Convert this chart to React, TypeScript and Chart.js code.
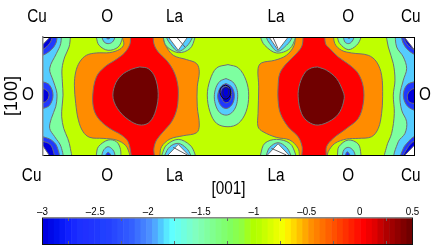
import React, { useEffect, useRef } from "react";
import { Chart, registerables } from "chart.js";

Chart.register(...registerables);

type P = number[];

// Contour field coordinates (axis units along [001] and [100]).
const XMIN = 130, XMAX = 1241, YMIN = 110, YMAX = 465;

const topLabels = ["Cu", "O", "La", "La", "O", "Cu"];
const topPositions = [112, 322, 524, 828, 1044, 1231];
const bottomLabels = ["Cu", "O", "La", "La", "O", "Cu"];
const bottomPositions = [96, 322, 524, 828, 1044, 1231];

const backdrop: P[] = [[100, 90], [1270, 90], [1270, 490], [100, 490], [100, 90]];

const orangeLeft: P[] = [[368, 95], [368, 112], [372, 132], [360, 147], [330, 157], [290, 158], [260, 165], [240, 185], [228, 215], [224, 255], [228, 310], [236, 360], [250, 395], [270, 412], [310, 415], [350, 420], [378, 437], [390, 465], [392, 480], [480, 480], [480, 465], [485, 440], [510, 417], [550, 407], [590, 398], [598, 375], [592, 320], [592, 260], [598, 215], [590, 190], [560, 178], [520, 165], [497, 135], [490, 110], [490, 95]];
const orangeRight: P[] = [[886, 95], [882, 135], [859, 165], [824, 180], [784, 188], [774, 205], [776, 260], [774, 340], [774, 380], [789, 395], [829, 412], [869, 420], [894, 445], [904, 480], [976, 480], [984, 455], [1004, 430], [1039, 417], [1074, 415], [1114, 410], [1134, 385], [1144, 340], [1147, 290], [1144, 225], [1129, 185], [1104, 165], [1054, 158], [1024, 150], [1004, 130], [999, 95]];
const redLeft: P[] = [[392, 95], [392, 112], [390, 132], [375, 157], [350, 177], [315, 200], [290, 230], [279, 285], [283, 330], [300, 360], [330, 385], [365, 405], [385, 425], [394, 465], [395, 480], [460, 480], [462, 445], [470, 420], [490, 395], [515, 365], [530, 330], [535, 290], [533, 250], [520, 210], [500, 180], [475, 155], [462, 130], [460, 95]];
const redRight: P[] = [[909, 95], [906, 135], [889, 160], [859, 190], [839, 220], [834, 260], [834, 300], [841, 340], [864, 380], [894, 410], [906, 440], [909, 480], [974, 480], [979, 440], [999, 415], [1039, 385], [1074, 355], [1089, 310], [1089, 260], [1074, 220], [1049, 195], [1014, 170], [989, 145], [976, 130], [974, 95]];
const darkRedLeft: P[] = [[420, 200], [445, 205], [465, 230], [475, 280], [468, 330], [450, 365], [425, 375], [395, 365], [360, 335], [340, 295], [345, 255], [365, 225], [395, 207], [420, 200]];
const darkRedRight: P[] = [[952, 200], [979, 210], [1009, 235], [1029, 275], [1032, 295], [1019, 335], [994, 360], [954, 375], [924, 365], [904, 340], [894, 290], [899, 250], [916, 215], [934, 203], [952, 200]];

const mintLeftEdge: P[] = [[212, 95], [212, 110], [208, 140], [195, 170], [187, 205], [188, 245], [190, 285], [187, 320], [186, 350], [192, 385], [204, 415], [212, 445], [212, 480], [100, 480], [100, 95]];
const mintRightEdge: P[] = [[1156, 95], [1164, 140], [1179, 190], [1184, 240], [1179, 285], [1182, 340], [1174, 400], [1159, 440], [1156, 480], [1270, 480], [1270, 95]];
const skyLeftEdge: P[] = [[185, 95], [183, 130], [170, 160], [150, 205], [160, 240], [170, 270], [172, 290], [168, 320], [155, 355], [150, 385], [165, 410], [184, 440], [186, 480], [100, 480], [100, 95]];
const skyRightEdge: P[] = [[1184, 95], [1189, 140], [1209, 170], [1219, 205], [1209, 240], [1199, 285], [1204, 330], [1219, 365], [1214, 400], [1194, 425], [1184, 480], [1270, 480], [1270, 95]];

const blueCornerTL: P[] = [[172, 95], [170, 125], [155, 148], [125, 167], [100, 170], [100, 95]];
const deepCornerTL: P[] = [[158, 95], [155, 120], [140, 140], [122, 152], [100, 155], [100, 95]];
const whiteCornerTL: P[] = [[166, 95], [130, 132], [100, 150], [100, 95]];
const blueCornerBL: P[] = [[100, 400], [130, 410], [155, 420], [172, 440], [176, 480], [100, 480]];
const deepCornerBL: P[] = [[100, 415], [130, 424], [150, 432], [160, 450], [162, 480], [100, 480]];
const whiteCornerBL: P[] = [[100, 425], [130, 438], [158, 480], [100, 480]];
const blueMidLeft: P[] = [[100, 240], [130, 245], [150, 255], [160, 285], [150, 315], [130, 325], [100, 330]];
const deepMidLeft: P[] = [[100, 262], [130, 265], [145, 275], [148, 287], [143, 300], [130, 308], [100, 310]];

const blueCornerTR: P[] = [[1202, 95], [1207, 125], [1224, 150], [1254, 168], [1270, 170], [1270, 95]];
const deepCornerTR: P[] = [[1206, 95], [1216, 125], [1236, 145], [1270, 160], [1270, 95]];
const whiteCornerTR: P[] = [[1200, 95], [1241, 147], [1270, 180], [1270, 95]];
const blueCornerBR: P[] = [[1270, 405], [1241, 410], [1224, 425], [1209, 445], [1202, 480], [1270, 480]];
const deepCornerBR: P[] = [[1270, 420], [1241, 424], [1224, 440], [1207, 480], [1270, 480]];
const whiteCornerBR: P[] = [[1270, 412], [1241, 437], [1200, 480], [1270, 480]];
const blueMidRight: P[] = [[1270, 240], [1241, 245], [1219, 255], [1209, 285], [1219, 315], [1241, 330], [1270, 335]];
const deepMidRight: P[] = [[1270, 262], [1241, 265], [1226, 275], [1221, 290], [1226, 305], [1241, 310], [1270, 312]];

const mintOTopL: P[] = [[288, 95], [290, 112], [298, 135], [325, 150], [355, 140], [368, 112], [368, 95]];
const skyOTopL: P[] = [[305, 95], [307, 112], [313, 125], [325, 130], [338, 125], [345, 112], [345, 95]];
const blueOTopL: P[] = [[316, 95], [318, 110], [325, 116], [333, 110], [334, 95]];
const mintOBotL: P[] = [[288, 480], [290, 462], [296, 440], [325, 420], [350, 425], [362, 448], [363, 480]];
const skyOBotL: P[] = [[305, 480], [307, 462], [313, 448], [325, 440], [338, 448], [345, 462], [345, 480]];
const blueOBotL: P[] = [[316, 480], [318, 465], [325, 457], [333, 465], [334, 480]];
const mintOTopR: P[] = [[1010, 95], [1012, 112], [1019, 130], [1044, 148], [1069, 135], [1082, 112], [1082, 95]];
const skyOTopR: P[] = [[1028, 95], [1030, 112], [1034, 125], [1044, 130], [1054, 125], [1061, 112], [1061, 95]];
const blueOTopR: P[] = [[1038, 95], [1040, 110], [1046, 114], [1052, 110], [1053, 95]];
const mintOBotR: P[] = [[1010, 480], [1012, 462], [1016, 440], [1044, 420], [1074, 432], [1082, 462], [1082, 480]];
const skyOBotR: P[] = [[1026, 480], [1027, 462], [1032, 448], [1044, 442], [1056, 448], [1064, 462], [1064, 480]];
const blueOBotR: P[] = [[1034, 480], [1036, 465], [1041, 455], [1049, 465], [1050, 480]];

const mintLaTopL: P[] = [[487, 95], [490, 112], [500, 138], [535, 157], [570, 145], [585, 112], [586, 95]];
const skyLaTopL: P[] = [[498, 95], [500, 112], [513, 133], [535, 153], [560, 138], [577, 112], [578, 95]];
const whiteLaTopL: P[] = [[494, 95], [535, 150], [574, 95]];
const ruleLaTopL: P[] = [[530, 110], [555, 140]];
const mintLaTopR: P[] = [[780, 95], [782, 112], [794, 135], [829, 158], [869, 145], [886, 112], [887, 95]];
const skyLaTopR: P[] = [[796, 95], [799, 112], [809, 130], [832, 153], [859, 135], [876, 112], [878, 95]];
const whiteLaTopR: P[] = [[797, 95], [834, 150], [876, 95]];
const ruleLaTopR: P[] = [[819, 112], [834, 145]];
const mintLaBotL: P[] = [[483, 480], [487, 462], [500, 435], [535, 418], [570, 435], [585, 462], [586, 480]];
const skyLaBotL: P[] = [[492, 480], [495, 465], [510, 440], [535, 430], [560, 445], [572, 465], [574, 480]];
const whiteLaBotL: P[] = [[490, 480], [535, 433], [580, 480]];
const ruleLaBotL: P[] = [[520, 442], [562, 465]];
const mintLaBotR: P[] = [[780, 480], [782, 462], [794, 430], [829, 418], [869, 430], [886, 462], [887, 480]];
const skyLaBotR: P[] = [[796, 480], [799, 465], [809, 442], [834, 428], [859, 442], [872, 465], [875, 480]];
const whiteLaBotR: P[] = [[788, 480], [834, 431], [880, 480]];
const ruleLaBotR: P[] = [[814, 445], [859, 465]];

const mintCentre: P[] = [[684, 193], [715, 203], [738, 240], [746, 285], [738, 335], [715, 370], [684, 380], [650, 370], [630, 335], [622, 285], [630, 240], [650, 203], [684, 193]];
const skyCentre: P[] = [[678, 235], [698, 245], [710, 265], [713, 290], [708, 318], [695, 338], [678, 345], [660, 338], [648, 318], [643, 290], [648, 262], [660, 243], [678, 235]];
const blueCentre: P[] = [[678, 250], [693, 258], [701, 272], [703, 290], [699, 308], [690, 320], [678, 325], [666, 320], [657, 306], [653, 288], [657, 270], [666, 256], [678, 250]];
const deepCentre: P[] = [[678, 258], [688, 263], [694, 274], [695, 286], [692, 298], [685, 306], [677, 308], [669, 302], [664, 290], [662, 276], [667, 264], [678, 258]];
const ringOuter: P[] = [[676, 255], [686, 259], [692, 272], [690, 287], [681, 296], [670, 295], [662, 284], [660, 270], [666, 259], [676, 255]];
const ringInner: P[] = [[678, 262], [684, 266], [686, 276], [683, 286], [677, 290], [671, 285], [669, 275], [672, 265], [678, 262]];

const LIME = "#bfff00", ORANGE = "#ff8c00", RED = "#ff0000", DARK = "#700000";
const MINT = "#7dffa0", SKY = "#55ccff", BLUE = "#2038ff", DEEP = "#0000dc", WHITE = "#ffffff";

const layers: [P[], string, boolean][] = [
  [backdrop, LIME, false],
  [orangeLeft, ORANGE, true], [orangeRight, ORANGE, true],
  [redLeft, RED, true], [redRight, RED, true],
  [darkRedLeft, DARK, true], [darkRedRight, DARK, true],
  [mintLeftEdge, MINT, true], [skyLeftEdge, SKY, true],
  [blueCornerTL, BLUE, true], [deepCornerTL, DEEP, true], [whiteCornerTL, WHITE, true],
  [blueCornerBL, BLUE, true], [deepCornerBL, DEEP, true], [whiteCornerBL, WHITE, true],
  [blueMidLeft, BLUE, true], [deepMidLeft, DEEP, true],
  [mintRightEdge, MINT, true], [skyRightEdge, SKY, true],
  [blueCornerTR, BLUE, true], [deepCornerTR, DEEP, true], [whiteCornerTR, WHITE, true],
  [blueCornerBR, BLUE, true], [deepCornerBR, DEEP, true], [whiteCornerBR, WHITE, true],
  [blueMidRight, BLUE, true], [deepMidRight, DEEP, true],
  [mintOTopL, MINT, true], [skyOTopL, SKY, true], [blueOTopL, BLUE, true],
  [mintOBotL, MINT, true], [skyOBotL, SKY, true], [blueOBotL, BLUE, true],
  [mintOTopR, MINT, true], [skyOTopR, SKY, true], [blueOTopR, BLUE, true],
  [mintOBotR, MINT, true], [skyOBotR, SKY, true], [blueOBotR, BLUE, true],
  [mintLaTopL, MINT, true], [skyLaTopL, SKY, true], [whiteLaTopL, WHITE, true],
  [mintLaTopR, MINT, true], [skyLaTopR, SKY, true], [whiteLaTopR, WHITE, true],
  [mintLaBotL, MINT, true], [skyLaBotL, SKY, true], [whiteLaBotL, WHITE, true],
  [mintLaBotR, MINT, true], [skyLaBotR, SKY, true], [whiteLaBotR, WHITE, true],
  [mintCentre, MINT, true], [skyCentre, SKY, true], [blueCentre, BLUE, true], [deepCentre, DEEP, true],
];
const rings: [P[], string][] = [
  [ringOuter, "#101010"], [ringInner, "#202060"],
  [ruleLaTopL, "#606060"], [ruleLaTopR, "#606060"], [ruleLaBotL, "#606060"], [ruleLaBotR, "#606060"],
];

// Colour bar
const barTickValues = [-3, -2.5, -2, -1.5, -1, -0.5, 0, 0.5];
const barTickLabels = ["–3", "–2.5", "–2", "–1.5", "–1", "–0.5", "0", "0.5"];
const barLevels = [-2.973, -2.918, -2.863, -2.809, -2.754, -2.699, -2.645, -2.59, -2.535, -2.48, -2.426, -2.371, -2.316, -2.262, -2.207, -2.152, -2.098, -2.043, -1.988, -1.934, -1.879, -1.824, -1.77, -1.715, -1.66, -1.605, -1.551, -1.496, -1.441, -1.387, -1.332, -1.277, -1.223, -1.168, -1.113, -1.059, -1.004, -0.949, -0.895, -0.84, -0.785, -0.73, -0.676, -0.621, -0.566, -0.512, -0.457, -0.402, -0.348, -0.293, -0.238, -0.184, -0.129, -0.074, -0.02, 0.035, 0.09, 0.145, 0.199, 0.254, 0.309, 0.363, 0.418, 0.473];
const barColours = ["#0000e0", "#0008e8", "#0010f0", "#0818f8", "#1020ff", "#1828ff", "#1c30ff", "#2030ff", "#2034ff", "#2038ff", "#2040ff", "#2440ff", "#2848ff", "#2c50ff", "#3058ff", "#3460ff", "#3c70ff", "#4480ff", "#4c90ff", "#50a8ff", "#50c8ff", "#58e8ff", "#60ffff", "#68fff0", "#70ffe0", "#78ffd0", "#80ffc0", "#80ffb0", "#80ffa0", "#80ff90", "#80ff80", "#80ff70", "#80ff60", "#88ff50", "#90ff40", "#a0ff20", "#b0ff00", "#b8ff00", "#c8ff00", "#d8ff00", "#e8ff00", "#f4ff00", "#ffee00", "#ffd800", "#ffc000", "#ffa800", "#ff9000", "#ff8000", "#ff7000", "#ff6000", "#ff5000", "#ff4000", "#ff3000", "#ff2000", "#ff1000", "#ff0000", "#f00000", "#e00000", "#c80000", "#b00000", "#a00000", "#900000", "#800000", "#700000"];

const REGULAR = "'Liberation Sans', sans-serif";

const toPoints = (p: P[]) => p.map(([x, y]) => ({ x, y }));

function fixedBox(size: number) {
  return (scale: any) => {
    if (scale.isHorizontal()) scale.height = size;
    else scale.width = size;
    scale.paddingLeft = scale.paddingRight = scale.paddingTop = scale.paddingBottom = 0;
  };
}

function fixedTicks(values: number[]) {
  return (scale: any) => {
    scale.ticks = values.map((value) => ({ value }));
  };
}

// The reference's horizontal lettering is about 15% narrower than the font.
function condenseText(canvas: HTMLCanvasElement) {
  const ctx: any = canvas.getContext("2d");
  const plain = ctx.fillText.bind(ctx);
  ctx.fillText = (text: string, x: number, y: number) => {
    const m = ctx.getTransform();
    if (Math.abs(m.b) > 0.01) {
      plain(text, x, y);
      return;
    }
    ctx.save();
    ctx.translate(x, y);
    ctx.scale(0.85, 1);
    plain(text, 0, 0);
    ctx.restore();
  };
}

export default function App() {
  const fieldRef = useRef<HTMLCanvasElement>(null);
  const barRef = useRef<HTMLCanvasElement>(null);

  useEffect(() => {
    condenseText(fieldRef.current!);
    condenseText(barRef.current!);

    const n = layers.length + rings.length;
    const fieldSets: any[] = layers.map(([pts, colour, outlined], i) => ({
      type: "scatter",
      data: toPoints(pts),
      showLine: true,
      fill: "shape",
      backgroundColor: colour,
      borderColor: outlined ? "#707070" : colour,
      borderWidth: outlined ? 1 : 0,
      tension: colour === WHITE ? 0 : 0.35,
      pointRadius: 0,
      order: n - i,
    }));
    rings.forEach(([pts, colour], i) => {
      fieldSets.push({
        type: "scatter",
        data: toPoints(pts),
        showLine: true,
        fill: false,
        borderColor: colour,
        borderWidth: 1,
        tension: pts.length > 2 ? 0.35 : 0,
        pointRadius: 0,
        order: rings.length - i,
      });
    });

    const labelFont = { family: REGULAR, size: 18 };
    const hidden = { display: false, drawTicks: false };
    const xBase = { type: "linear", min: XMIN, max: XMAX, grid: hidden };
    const yBase = { type: "linear", min: YMIN, max: YMAX, reverse: true, grid: hidden };

    const field = new Chart(fieldRef.current!, {
      type: "scatter",
      data: { datasets: fieldSets },
      options: {
        responsive: false,
        animation: false,
        layout: { padding: 0 },
        plugins: { legend: { display: false }, tooltip: { enabled: false } },
        scales: {
          x: {
            ...xBase,
            position: "bottom",
            border: { color: "#000", width: 1, z: 2 },
            afterBuildTicks: fixedTicks(bottomPositions),
            afterFit: fixedBox(50),
            ticks: {
              autoSkip: false, maxRotation: 0, minRotation: 0, color: "#000", font: labelFont, padding: 10,
              callback: (v: any) => bottomLabels[bottomPositions.indexOf(v)],
            },
            title: { display: true, text: "[001]", color: "#000", font: labelFont, padding: { top: 0, bottom: 5 } },
          },
          xTop: {
            ...xBase,
            position: "top",
            border: { color: "#000", width: 1, z: 2 },
            afterBuildTicks: fixedTicks(topPositions),
            afterFit: fixedBox(37),
            ticks: {
              autoSkip: false, maxRotation: 0, minRotation: 0, color: "#000", font: labelFont, padding: 9,
              callback: (v: any) => topLabels[topPositions.indexOf(v)],
            },
          },
          y: {
            ...yBase,
            position: "left",
            border: { color: "#888", width: 1.5, z: 2 },
            afterBuildTicks: fixedTicks([285]),
            afterFit: fixedBox(43),
            ticks: { color: "#000", font: labelFont, padding: 9, callback: () => "O" },
            title: { display: true, text: "[100]", color: "#000", font: { family: REGULAR, size: 18 }, padding: { top: 1, bottom: 0 } },
          },
          yRight: {
            ...yBase,
            position: "right",
            border: { color: "#000", width: 1, z: 2 },
            afterBuildTicks: fixedTicks([285]),
            afterFit: fixedBox(22),
            ticks: { color: "#000", font: labelFont, padding: 5, callback: () => "O" },
          },
        },
      } as any,
    });

    const barTickOpts = { display: true, drawOnChartArea: false, drawTicks: true, tickLength: -3, tickColor: "#666", z: 2 };
    const bar = new Chart(barRef.current!, {
      type: "bar",
      data: {
        datasets: [{
          data: barLevels.map((x) => ({ x, y: 1 })),
          backgroundColor: barColours,
          borderWidth: 0,
          barPercentage: 1,
          categoryPercentage: 1,
        }],
      },
      options: {
        responsive: false,
        animation: false,
        layout: { padding: 0 },
        plugins: { legend: { display: false }, tooltip: { enabled: false } },
        scales: {
          x: {
            type: "linear", position: "bottom", min: -3, max: 0.5, offset: false,
            grid: barTickOpts,
            border: { color: "#111", width: 1, z: 2 },
            afterBuildTicks: fixedTicks(barTickValues),
            afterFit: fixedBox(1),
            ticks: { display: false },
          },
          xTop: {
            type: "linear", position: "top", min: -3, max: 0.5, offset: false,
            grid: barTickOpts,
            border: { color: "#888", width: 1.5, z: 2 },
            afterBuildTicks: fixedTicks(barTickValues),
            afterFit: fixedBox(13),
            ticks: {
              autoSkip: false, maxRotation: 0, minRotation: 0, color: "#000", padding: 2,
              font: { family: REGULAR, size: 11.5 },
              callback: (v: any) => barTickLabels[barTickValues.indexOf(v)],
            },
          },
          y: {
            min: 0, max: 1, position: "left", grid: { display: false },
            border: { color: "#111", width: 1, z: 2 },
            afterFit: fixedBox(42.5), ticks: { display: false },
          },
          yRight: {
            type: "linear", min: 0, max: 1, position: "right", grid: { display: false },
            border: { color: "#111", width: 1, z: 2 },
            afterFit: fixedBox(23.5), ticks: { display: false },
          },
        },
      } as any,
    });

    return () => {
      field.destroy();
      bar.destroy();
    };
  }, []);

  return (
    <div style={{ position: "fixed", left: 0, top: 0, width: 436, height: 245, background: "#fff", overflow: "hidden" }}>
      <canvas ref={fieldRef} width={436} height={205} style={{ position: "absolute", left: 0, top: 0, width: 436, height: 205 }} />
      <canvas ref={barRef} width={436} height={40} style={{ position: "absolute", left: 0, top: 205, width: 436, height: 40 }} />
    </div>
  );
}
